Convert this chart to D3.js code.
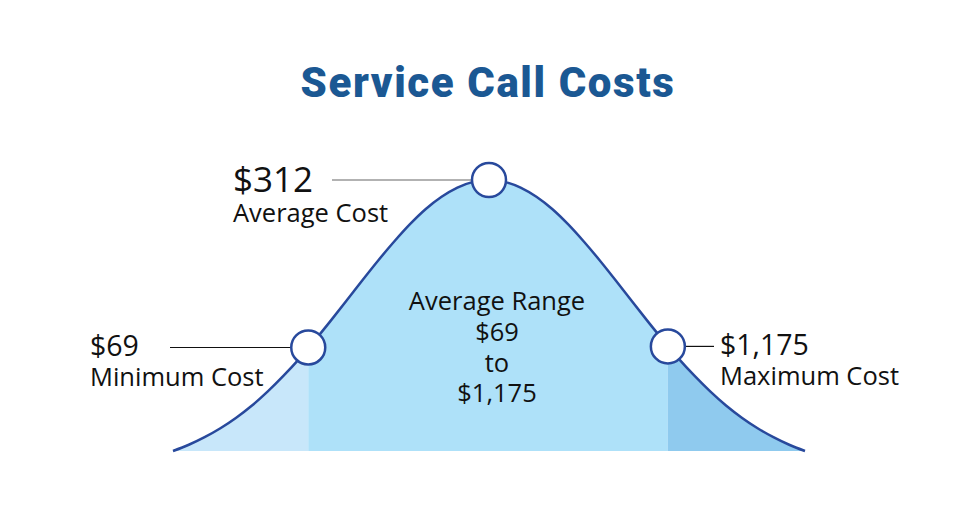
<!DOCTYPE html>
<html>
<head>
<meta charset="utf-8">
<script src="https://cdn.jsdelivr.net/npm/d3@7"></script>
<style>
  html, body { margin: 0; padding: 0; background: #ffffff; }
  svg { display: block; }
</style>
</head>
<body>
<div id="chart"></div>
<script>
// ---- data ----
const title = "Service Call Costs";
// bell curve: position along the range (0–100) and relative height (0–1)
const curveX = [0, 2.5, 5, 7.5, 10, 12.5, 15, 17.5, 20, 22.5, 25, 27.5, 30, 32.5, 35, 37.5, 40, 42.5, 45, 47.5, 50,
                52.5, 55, 57.5, 60, 62.5, 65, 67.5, 70, 72.5, 75, 77.5, 80, 82.5, 85, 87.5, 90, 92.5, 95, 97.5, 100];
const curveY = [0, 0.023, 0.051, 0.084, 0.123, 0.168, 0.220, 0.278, 0.341, 0.410, 0.482, 0.556, 0.631, 0.704, 0.773, 0.837, 0.893, 0.938, 0.972, 0.993, 1,
                0.993, 0.972, 0.938, 0.893, 0.837, 0.773, 0.704, 0.631, 0.556, 0.482, 0.410, 0.341, 0.278, 0.220, 0.168, 0.123, 0.084, 0.051, 0.023, 0];
// markers
const markerValues = ["$69", "$312", "$1,175"];
const markerNames = ["Minimum Cost", "Average Cost", "Maximum Cost"];
const markerX = [21.4, 50, 78.3];
const markerY = [0.382, 1, 0.386];
// zones
const zoneStart = [0, 21.4, 78.3];
const zoneEnd = [21.4, 78.3, 100];
const centerLines = ["Average Range", "$69", "to", "$1,175"];

// ---- drawing ----
const W = 977, H = 524;
const svg = d3.select("#chart").append("svg").attr("width", W).attr("height", H);

const x = d3.scaleLinear().domain([0, 100]).range([173, 805]);
const y = d3.scaleLinear().domain([0, 1]).range([451, 180]);

const pts = curveX.map((v, i) => [v, curveY[i]]);

const zoneColors = ["#c8e7fa", "#aee1f9", "#8fcaee"];
const lineColor = "#28499c";

const defs = svg.append("defs");
zoneStart.forEach((s, i) => {
  defs.append("clipPath").attr("id", "zone" + i)
    .append("rect")
    .attr("x", x(s)).attr("y", 0)
    .attr("width", x(zoneEnd[i]) - x(s)).attr("height", H);
});

const area = d3.area()
  .x(d => x(d[0])).y0(y(0)).y1(d => y(d[1]))
  .curve(d3.curveMonotoneX);

zoneStart.forEach((s, i) => {
  svg.append("path").datum(pts)
    .attr("d", area)
    .attr("fill", zoneColors[i])
    .attr("clip-path", `url(#zone${i})`);
});

const line = d3.line().x(d => x(d[0])).y(d => y(d[1])).curve(d3.curveMonotoneX);
svg.append("path").datum(pts)
  .attr("d", line)
  .attr("fill", "none")
  .attr("stroke", lineColor)
  .attr("stroke-width", 2.5);

// title
svg.append("text")
  .attr("x", 488).attr("y", 97)
  .attr("text-anchor", "middle")
  .attr("font-family", "Roboto, Inter, sans-serif")
  .attr("font-weight", 900)
  .attr("font-size", 42)
  .attr("letter-spacing", 1.6)
  .attr("fill", "#1b5893")
  .text(title);

// leader lines & labels
const font = "'Open Sans', 'Noto Sans', sans-serif";
const leaders = [
  { x1: 170, x2: x(markerX[0]) - 17, lx: 90, vSize: 28.5, color: "#111", dv: 9, dn: 39 },
  { x1: 332, x2: x(markerX[1]) - 17, lx: 233, vSize: 35, color: "#666", dv: 12, dn: 42 },
  { x1: x(markerX[2]) + 17, x2: 714, lx: 720, vSize: 28.5, color: "#111", dv: 9, dn: 39 }
];

markerValues.forEach((v, i) => {
  const cy = y(markerY[i]);
  const L = leaders[i];
  svg.append("line")
    .attr("x1", L.x1).attr("x2", L.x2)
    .attr("y1", cy).attr("y2", cy)
    .attr("stroke", L.color).attr("stroke-width", 1.2);
  svg.append("text")
    .attr("x", L.lx).attr("y", cy + L.dv)
    .attr("font-family", font).attr("font-size", L.vSize)
    .attr("fill", "#111")
    .text(v);
  svg.append("text")
    .attr("x", L.lx).attr("y", cy + L.dn)
    .attr("font-family", font).attr("font-size", 25.5)
    .attr("fill", "#111")
    .text(markerNames[i]);
});

// markers
markerX.forEach((mx, i) => {
  svg.append("circle")
    .attr("cx", x(mx)).attr("cy", y(markerY[i]))
    .attr("r", 17)
    .attr("fill", "#ffffff")
    .attr("stroke", lineColor)
    .attr("stroke-width", 2.5);
});

// center text
centerLines.forEach((t, i) => {
  svg.append("text")
    .attr("x", 497).attr("y", 310 + i * 30.8)
    .attr("text-anchor", "middle")
    .attr("font-family", font).attr("font-size", 25.5)
    .attr("fill", "#111")
    .text(t);
});
</script>
</body>
</html>
